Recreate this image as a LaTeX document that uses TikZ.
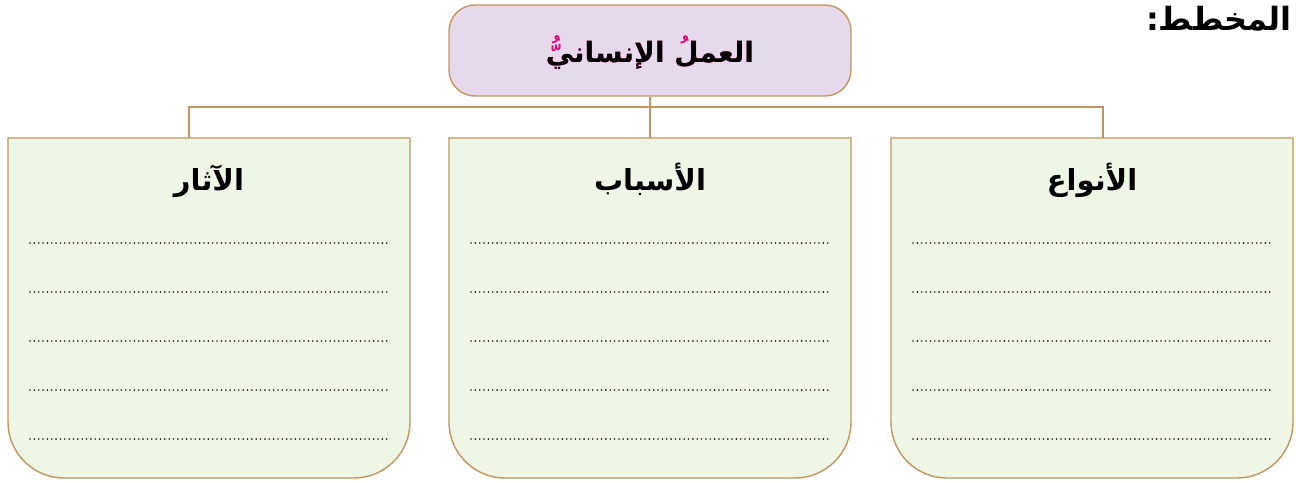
\documentclass[tikz,border=0pt]{standalone}
\usepackage{fontspec}
\TeXXeTstate=1
\newfontfamily\arabicfont[Script=Arabic]{DejaVu Sans}
\definecolor{edge}{HTML}{C2955F}
\definecolor{lav}{HTML}{E6D9EB}
\definecolor{pale}{HTML}{EEF6E5}
\definecolor{mark}{HTML}{E6007E}
\definecolor{dots}{HTML}{1E1E1E}
\tikzset{
  topbox/.style={draw=edge, fill=lav, line width=1.4pt, rounded corners=26pt,
    minimum width=402pt, minimum height=91pt, inner sep=0pt},
  panel/.style={draw=edge, fill=pale, line width=1.4pt},
  link/.style={draw=edge, line width=1.2pt},
  heading/.style={font=\arabicfont\bfseries\fontsize{29}{34}\selectfont, inner sep=0pt, anchor=base},
  writeline/.style={draw=dots, line width=1.8pt, line cap=round, dash pattern=on 0pt off 4.35pt}
}
\begin{document}
\begin{tikzpicture}[x=1pt,y=-1pt]
\useasboundingbox (0,0) rectangle (1296,482);
% top box
\node[topbox] (top) at (650,50.5) {};
\node[heading, text=mark, font=\arabicfont\bfseries\fontsize{28}{34}\selectfont] (toptextmarks) at (650,62) {\beginR العملُ الإنسانيُّ\endR};
\node[heading, font=\arabicfont\bfseries\fontsize{28}{34}\selectfont] (toptext) at (650,62) {\beginR العمل الإنساني\endR};
% caption
\node[heading, anchor=base east, font=\arabicfont\bfseries\fontsize{32}{36}\selectfont] (caption) at (1292,30) {\beginR المخطط:\endR};
% panels
\foreach \x/\nm/\txt in {8/left/الآثار, 449/mid/الأسباب, 891/right/الأنواع}{
  \draw[panel] (\x,138) -- (\x+402,138) [rounded corners=56pt] -- (\x+402,478) -- (\x,478) [sharp corners] -- cycle;
  \node[heading] (\nm-title) at (\x+201,190) {\beginR \txt\endR};
  \foreach \y in {243,292,341,390,439}{
    \draw[writeline] (\x+22,\y) -- (\x+380,\y);
  }
}
\coordinate (left-top) at (189,138);
\coordinate (mid-top) at (650,138);
\coordinate (right-top) at (1103,138);
% connectors
\coordinate (junction) at (650,107);
\draw[link] (top.south) -- (mid-top);
\draw[link] (left-top) |- (junction) -| (right-top);
\end{tikzpicture}
\end{document}
